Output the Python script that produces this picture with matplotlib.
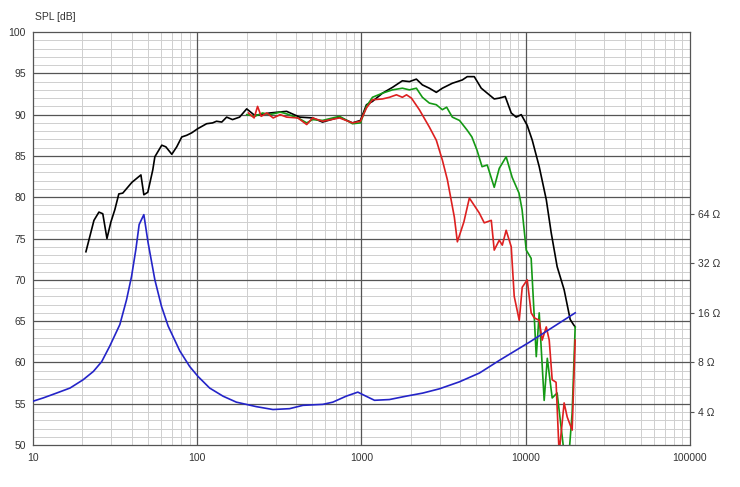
import matplotlib.pyplot as plt
from matplotlib.ticker import FixedLocator, NullFormatter, NullLocator

plt.rcParams['font.family'] = ['Liberation Sans', 'DejaVu Sans']

# impedance curve (ohm)
imp_f = [10, 11.55, 13.9, 16.8, 20.2, 23.3, 26.2, 29.4, 33.8, 37.1, 39.8, 42.3, 44.3, 47.3,
         50.2, 55.2, 60.5, 66.5, 78.3, 90, 101, 119, 143.5, 173, 229, 289, 365, 440, 582,
         669, 807, 950, 1043, 1200, 1479, 1870, 2360, 2980, 3950, 5230, 7000, 10500, 20000]
imp_z = [4.65, 4.87, 5.21, 5.59, 6.28, 7.05, 8.09, 10.1, 13.6, 19.2, 26.6, 38.9, 55.1, 63.2,
         42.7, 25.4, 17.6, 13.3, 9.4, 7.55, 6.58, 5.59, 4.99, 4.59, 4.31, 4.14, 4.19, 4.39, 4.45,
         4.59, 4.99, 5.28, 5.04, 4.71, 4.76, 4.99, 5.21, 5.53, 6.1, 6.9, 8.3, 10.6, 16.0]

# on-axis SPL (dB)
spl0_f = [21, 23.5, 25.2, 26.6, 28.2, 29.8, 31.5, 33.3, 35.2, 40, 43.5, 45.4, 47.3, 50,
          53.6, 55.2, 60.8, 64.4, 70, 75, 80.5, 86.3, 92.6, 100.7, 114, 124, 131, 141,
          151, 164, 181, 200, 224, 276, 350, 420, 504, 579, 735, 881, 985, 1072, 1166,
          1342, 1543, 1774, 1958, 2159, 2349, 2589, 2855, 3107, 3573, 4109, 4406, 4860,
          5360, 5830, 6430, 6900, 7500, 8160, 8750, 9390, 10210, 10960, 12080, 13340,
          14290, 15530, 17130, 18650, 19500, 20000]
spl0_db = [73.4, 77.2, 78.2, 78.0, 75.0, 77.0, 78.5, 80.4, 80.5, 81.8, 82.4, 82.7, 80.3, 80.6,
           83.3, 84.9, 86.3, 86.1, 85.2, 86.1, 87.3, 87.5, 87.8, 88.3, 88.9, 89.0, 89.2, 89.1,
           89.7, 89.4, 89.7, 90.7, 89.9, 90.2, 90.4, 89.7, 89.6, 89.1, 89.7, 89.0, 89.3, 91.2, 91.6,
           92.6, 93.3, 94.1, 94.0, 94.3, 93.6, 93.2, 92.7, 93.2, 93.8, 94.2, 94.6, 94.6,
           93.2, 92.6, 91.9, 92.0, 92.2, 90.2, 89.7, 90.0, 88.7, 86.9, 83.7, 79.7,
           75.7, 71.6, 68.8, 65.2, 64.6, 64.3]

# 30 degree off-axis (green)
spl30_f = [200, 224, 250, 276, 320, 350, 420, 464, 504, 579, 735, 881, 985, 1072, 1166,
           1342, 1543, 1774, 1958, 2159, 2349, 2589, 2855, 3107, 3300, 3573, 3950, 4250,
           4406, 4700, 5050, 5420, 5830, 6430, 6900, 7600, 8270, 9100, 9500, 10070, 10790,
           11270, 11590, 12080, 12950, 13530, 14490, 15530, 17130, 18360, 19170, 20000]
spl30_db = [90.0, 89.8, 90.2, 90.0, 90.3, 90.1, 89.5, 89.0, 89.4, 89.3, 89.8, 88.9, 89.0, 91.0, 92.1,
            92.6, 93.0, 93.2, 93.0, 93.2, 92.1, 91.4, 91.2, 90.6, 90.9, 89.7, 89.3, 88.5,
            88.1, 87.3, 85.7, 83.7, 83.9, 81.2, 83.5, 84.9, 82.4, 80.5, 78.5, 73.6, 72.6,
            65.5, 60.7, 66.0, 55.4, 60.5, 55.7, 56.3, 49.0, 49.0, 53.9, 64.3]

# 60 degree off-axis (red)
spl60_f = [205, 222, 233, 245, 265, 290, 320, 350, 410, 464, 504, 580, 735, 881, 985, 1072,
           1166, 1342, 1479, 1632, 1774, 1880, 2014, 2250, 2589, 2855, 3107, 3335, 3675,
           3835, 4200, 4537, 5210, 5590, 6170, 6430, 6900, 7200, 7600, 8160, 8510, 9130,
           9520, 10210, 10790, 11270, 12080, 12590, 13340, 13900, 14490, 15300, 15970,
           17130, 17880, 19170, 20000]
spl60_db = [90.2, 89.6, 91.0, 89.8, 90.2, 89.6, 90.0, 89.7, 89.6, 88.8, 89.6, 89.2, 89.6, 89.0, 89.2, 90.8,
            91.8, 91.9, 92.1, 92.4, 92.1, 92.4, 92.0, 90.6, 88.5, 86.9, 84.5, 82.1, 77.6,
            74.6, 77.0, 79.9, 78.1, 76.9, 77.2, 73.6, 74.8, 74.2, 76.0, 74.0, 68.0, 65.1,
            69.1, 70.0, 66.0, 65.4, 65.1, 62.7, 64.3, 62.7, 57.9, 57.6, 49.0,
            55.1, 53.4, 51.8, 62.7]

freq_ticks = [10, 100, 1000, 10000, 100000]
freq_labels = ['10', '100', '1000', '10000', '100000']
db_ticks = list(range(50, 101, 5))
ohm_ticks = [4, 8, 16, 32, 64]
ohm_labels = ['4 Ω', '8 Ω', '16 Ω', '32 Ω', '64 Ω']

fig = plt.figure(figsize=(7.4, 4.87), dpi=100)
ax = fig.add_axes([0.0446, 0.0862, 0.8878, 0.8480])

ax.set_xscale('log')
ax.set_xlim(10, 100000)
ax.set_ylim(50, 100)
ax.set_yticks(db_ticks)
ax.yaxis.set_minor_locator(FixedLocator(range(50, 101)))
ax.set_xticks(freq_ticks)
ax.set_xticklabels(freq_labels)
ax.xaxis.set_minor_formatter(NullFormatter())

# light minor grid, dark major lines drawn on top of it
ax.grid(which='minor', color='#cfcfcf', linewidth=0.7)
ax.set_axisbelow(True)
for f in freq_ticks[1:-1]:
    ax.axvline(f, color='#555555', linewidth=0.9, zorder=1)
for d in db_ticks[1:-1]:
    ax.axhline(d, color='#555555', linewidth=0.9, zorder=1)

ax.tick_params(which='both', length=0, labelsize=7.5, labelcolor='#333333')
ax.tick_params(axis='y', pad=5)
ax.tick_params(axis='x', pad=6)
for s in ax.spines.values():
    s.set_color('#555555')
    s.set_linewidth(0.9)

ax.plot(spl0_f, spl0_db, color='#000000', linewidth=1.2)
ax.plot(spl30_f, spl30_db, color='#149914', linewidth=1.2)
ax.plot(spl60_f, spl60_db, color='#dd2020', linewidth=1.2)

ax2 = ax.twinx()
ax2.set_yscale('log', base=2)
ax2.set_ylim(8 * 2 ** (-10 / 6), 8 * 2 ** (40 / 6))
ax2.yaxis.set_major_locator(FixedLocator(ohm_ticks))
ax2.yaxis.set_minor_locator(NullLocator())
ax2.set_yticklabels(ohm_labels)
ax2.tick_params(axis='y', length=3, color='#555555', labelsize=7.5, labelcolor='#333333', pad=3)
for s in ax2.spines.values():
    s.set_visible(False)
ax2.plot(imp_f, imp_z, color='#2424c8', linewidth=1.2)

fig.text(0.047, 0.965, 'SPL [dB]', fontsize=7.5, color='#333333', va='center')

fig.savefig('out.png', dpi=100)
